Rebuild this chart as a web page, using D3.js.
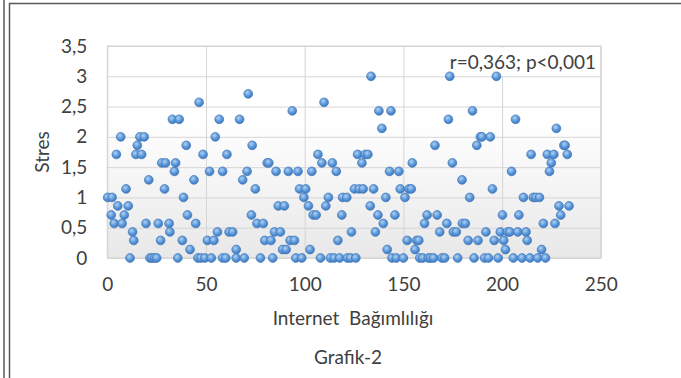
<!DOCTYPE html>
<html>
<head>
<meta charset="utf-8">
<script src="https://cdn.jsdelivr.net/npm/d3@7"></script>
<style>
    body { margin: 0; background: #fff; }
    text { font-family: Lato, 'Open Sans', sans-serif; fill: #404040; }
</style>
</head>
<body>
<svg id="chart" width="681" height="378"></svg>
<script>

// Internet Bagimliligi (x) vs Stres (y)
var internet = [
    0.2, 2.4, 2, 3.5, 4.6, 5.3, 6.8, 7.5, 8.6, 9.5, 10.6, 11.5, 12.8, 13.4, 14.5, 15.2, 16.5, 17.4, 18.7, 19.6,
    21, 21.6, 22.7, 24, 25, 25.8, 27, 27.6, 29, 29.5, 31.3, 31.7, 33, 34, 34.6, 35.7, 36.4, 38, 38.6, 40,
    40.6, 41.9, 43.9, 44.8, 45.9, 46.5, 47.4, 48.5, 49.4, 50.7, 51.8, 52.7, 54, 54.7, 55.8, 56.7, 58.4, 58.4, 60, 60.6,
    61.7, 63.5, 65.3, 65.3, 67, 68.6, 69.4, 70.8, 71.4, 73, 73.4, 75, 75.8, 77.6, 79, 79.8, 81, 81.8, 82.9, 83.8,
    84.7, 85.5, 86.6, 87.7, 88.8, 89.7, 90.6, 91.7, 92.6, 93.7, 94.8, 95.5, 96.6, 97.4, 98.5, 99.6, 100.5, 101.9, 102.7, 103.6,
    104.3, 105.8, 106.7, 108, 108.7, 109.8, 110.7, 112, 113, 114, 114.9, 116, 116.8, 117.7, 118.8, 119.2, 121.3, 121.6, 123.2, 123.7,
    125.2, 125.9, 126.8, 127.6, 129, 129.6, 130.7, 132, 133.2, 133.6, 134.9, 135.8, 137.1, 137.6, 139.1, 139.8, 141.1, 141.8, 143, 143.7,
    144.2, 145.7, 146.4, 147.7, 148.4, 150, 150.8, 151.9, 152.8, 154, 154.5, 155.9, 156.7, 157.8, 158.3, 159.8, 160.7, 162, 162.7, 163.8,
    165.3, 166, 167.1, 168.4, 169.5, 170.9, 172, 172.8, 173.5, 174.8, 175.3, 176.8, 177.5, 179.7, 179.9, 181.4, 182.8, 183.6, 185, 185.8,
    187.2, 187.8, 189, 189.8, 191.1, 191.8, 193.1, 194, 195.1, 196, 197.1, 198, 199.1, 200.2, 200.8, 201.7, 202.8, 203.9, 204.8, 205.7,
    206.8, 207.9, 208.5, 210.1, 210.8, 212.1, 212.7, 214.1, 214.7, 215.8, 217.1, 218, 218.9, 220, 220.9, 222, 222.9, 224, 224.9, 226.2,
    226.8, 227.5, 228.8, 229.7, 231.3, 231.9, 233, 233.9
];

var stres = [
    1, 1, 0.71, 0.57, 1.71, 0.86, 2, 0.57, 0.71, 1.14, 0.86, 0, 0.43, 0.29, 1.71, 1.86, 2, 1.71, 2, 0.57,
    1.29, 0, 0, 0, 0, 0.57, 0.29, 1.57, 1.14, 1.57, 0.57, 0.43, 2.29, 1.43, 1.57, 0, 2.29, 0.29, 1, 1.86,
    0.71, 0.14, 1.29, 0.57, 0, 2.57, 0, 1.71, 0, 0.29, 1.43, 0, 0.29, 2, 0.43, 2.29, 1.43, 0, 0, 1.71,
    0.43, 0.43, 0.14, 0, 2.29, 1.29, 0, 1.43, 2.71, 0.71, 1.86, 1.14, 0.57, 0, 0.57, 0.29, 1.57, 1.57, 0.29, 0,
    0.43, 1.43, 0.86, 0.43, 0.14, 0.86, 0.14, 1.43, 0.29, 2.43, 0.29, 0, 1.43, 1.14, 0, 1, 1.14, 0.86, 0.14, 1.43,
    0.71, 0.71, 1.71, 0, 1.57, 2.57, 0.86, 1, 0, 1.57, 0, 1.43, 0.29, 0, 0.71, 1, 1, 0, 0, 0.43,
    1.14, 0, 1.71, 1.14, 1.57, 1.14, 1.71, 1.71, 0.86, 3, 1.14, 0.43, 0.71, 2.43, 2.14, 0.57, 1, 0.14, 1.43, 2.43,
    0, 0.71, 0, 1.43, 1.14, 0, 1, 0.29, 1.14, 1.14, 1.57, 0.14, 0.29, 0.29, 0, 0, 0.57, 0.71, 0, 0,
    0, 1.86, 0.71, 0.43, 0, 0, 0.57, 2.29, 3, 1.57, 0.43, 0.43, 0, 1.29, 0.57, 0.57, 0.29, 1, 2.43, 0,
    1.86, 0.29, 2, 2, 0, 0.43, 0, 2, 1.14, 0.29, 3, 0, 0.43, 0.71, 0.29, 0.14, 0.43, 0.43, 1.43, 0,
    2.29, 0.43, 0.71, 0, 1, 0.43, 0.29, 0, 1.71, 1, 1, 0, 1, 0.14, 0.57, 0, 1.71, 1.43, 1.57, 1.71,
    0.57, 2.14, 0.86, 0.71, 1.86, 1.86, 1.71, 0.86
];

var xTicks = [0, 50, 100, 150, 200, 250];
var yTicks = [0, 0.5, 1, 1.5, 2, 2.5, 3, 3.5];

var xTitle = 'Internet  Bağımlılığı';
var yTitle = 'Stres';
var caption = 'Grafik-2';
var note = 'r=0,363; p<0,001';

var plotLeft = 107.3, plotRight = 600.8, plotTop = 46, plotBottom = 258;

function comma (d) {
    return String(d).replace('.', ',');
}

function drawFrame (svg) {
    svg.append('line').attr('x1', 4).attr('x2', 4).attr('y1', 0).attr('y2', 378)
        .attr('stroke', '#5a5a5a').attr('stroke-width', 1.5);
    svg.append('line').attr('x1', 9.5).attr('x2', 9.5).attr('y1', 3).attr('y2', 378)
        .attr('stroke', '#5a5a5a').attr('stroke-width', 1.5);
    svg.append('line').attr('x1', 9).attr('x2', 681).attr('y1', 3.5).attr('y2', 3.5)
        .attr('stroke', '#5a5a5a').attr('stroke-width', 1.5);
}

function styleLabels (g) {
    g.select('.domain').remove();
    g.selectAll('text').attr('font-size', 19).attr('fill', '#404040')
        .style('font-family', 'Lato, sans-serif');
}

function styleGrid (g) {
    g.select('.domain').remove();
    g.selectAll('line').attr('stroke', '#d6d6d6');
}

function drawChart () {
    var svg = d3.select('#chart');

    var x = d3.scaleLinear().domain([0, 250]).range([plotLeft, plotRight]);
    var y = d3.scaleLinear().domain([0, 3.5]).range([plotBottom, plotTop]);

    var defs = svg.append('defs');

    var bg = defs.append('linearGradient').attr('id', 'plotBg')
        .attr('x1', 0).attr('y1', 0).attr('x2', 0).attr('y2', 1);
    bg.append('stop').attr('offset', '0%').attr('stop-color', '#ffffff');
    bg.append('stop').attr('offset', '35%').attr('stop-color', '#ffffff');
    bg.append('stop').attr('offset', '100%').attr('stop-color', '#e8e8e8');

    var dot = defs.append('radialGradient').attr('id', 'dotFill')
        .attr('cx', '40%').attr('cy', '35%').attr('r', '65%');
    dot.append('stop').attr('offset', '0%').attr('stop-color', '#b3d1f1');
    dot.append('stop').attr('offset', '55%').attr('stop-color', '#5e9bdc');
    dot.append('stop').attr('offset', '100%').attr('stop-color', '#3c78c0');

    drawFrame(svg);

    svg.append('rect')
        .attr('x', plotLeft).attr('y', plotTop)
        .attr('width', plotRight - plotLeft).attr('height', plotBottom - plotTop)
        .attr('fill', 'url(#plotBg)')
        .attr('stroke', '#cfcfcf');

    // gridlines
    svg.append('g')
        .attr('transform', 'translate(0,' + plotBottom + ')')
        .call(d3.axisBottom(x).tickValues(xTicks).tickSize(-(plotBottom - plotTop)).tickFormat(''))
        .call(styleGrid);

    svg.append('g')
        .attr('transform', 'translate(' + plotLeft + ',0)')
        .call(d3.axisLeft(y).tickValues(yTicks).tickSize(-(plotRight - plotLeft)).tickFormat(''))
        .call(styleGrid);

    // tick labels
    svg.append('g')
        .attr('transform', 'translate(0,' + plotBottom + ')')
        .call(d3.axisBottom(x).tickValues(xTicks).tickSize(0).tickPadding(20).tickFormat(comma))
        .call(styleLabels);

    svg.append('g')
        .attr('transform', 'translate(' + plotLeft + ',0)')
        .call(d3.axisLeft(y).tickValues(yTicks).tickSize(0).tickPadding(20).tickFormat(comma))
        .call(styleLabels);

    // note box
    svg.append('rect')
        .attr('x', 443).attr('y', 48).attr('width', 155).attr('height', 28)
        .attr('fill', '#fff');
    svg.append('text')
        .attr('x', 596).attr('y', 69)
        .attr('text-anchor', 'end')
        .attr('font-size', 19)
        .text(note);

    // points
    svg.append('g').selectAll('circle')
        .data(d3.range(stres.length))
        .join('circle')
        .attr('cx', function (i) { return x(internet[i]); })
        .attr('cy', function (i) { return y(stres[i]); })
        .attr('r', 4.4)
        .attr('fill', 'url(#dotFill)')
        .attr('stroke', '#4477b8')
        .attr('stroke-width', 0.7);

    svg.append('text')
        .attr('transform', 'translate(49,152) rotate(-90)')
        .attr('text-anchor', 'middle')
        .attr('font-size', 19)
        .text(yTitle);

    svg.append('text')
        .attr('x', 353).attr('y', 325)
        .attr('text-anchor', 'middle')
        .attr('font-size', 19)
        .style('white-space', 'pre')
        .text(xTitle);

    svg.append('text')
        .attr('x', 348).attr('y', 364)
        .attr('text-anchor', 'middle')
        .attr('font-size', 19)
        .text(caption);
}

drawChart();
</script>
</body>
</html>
